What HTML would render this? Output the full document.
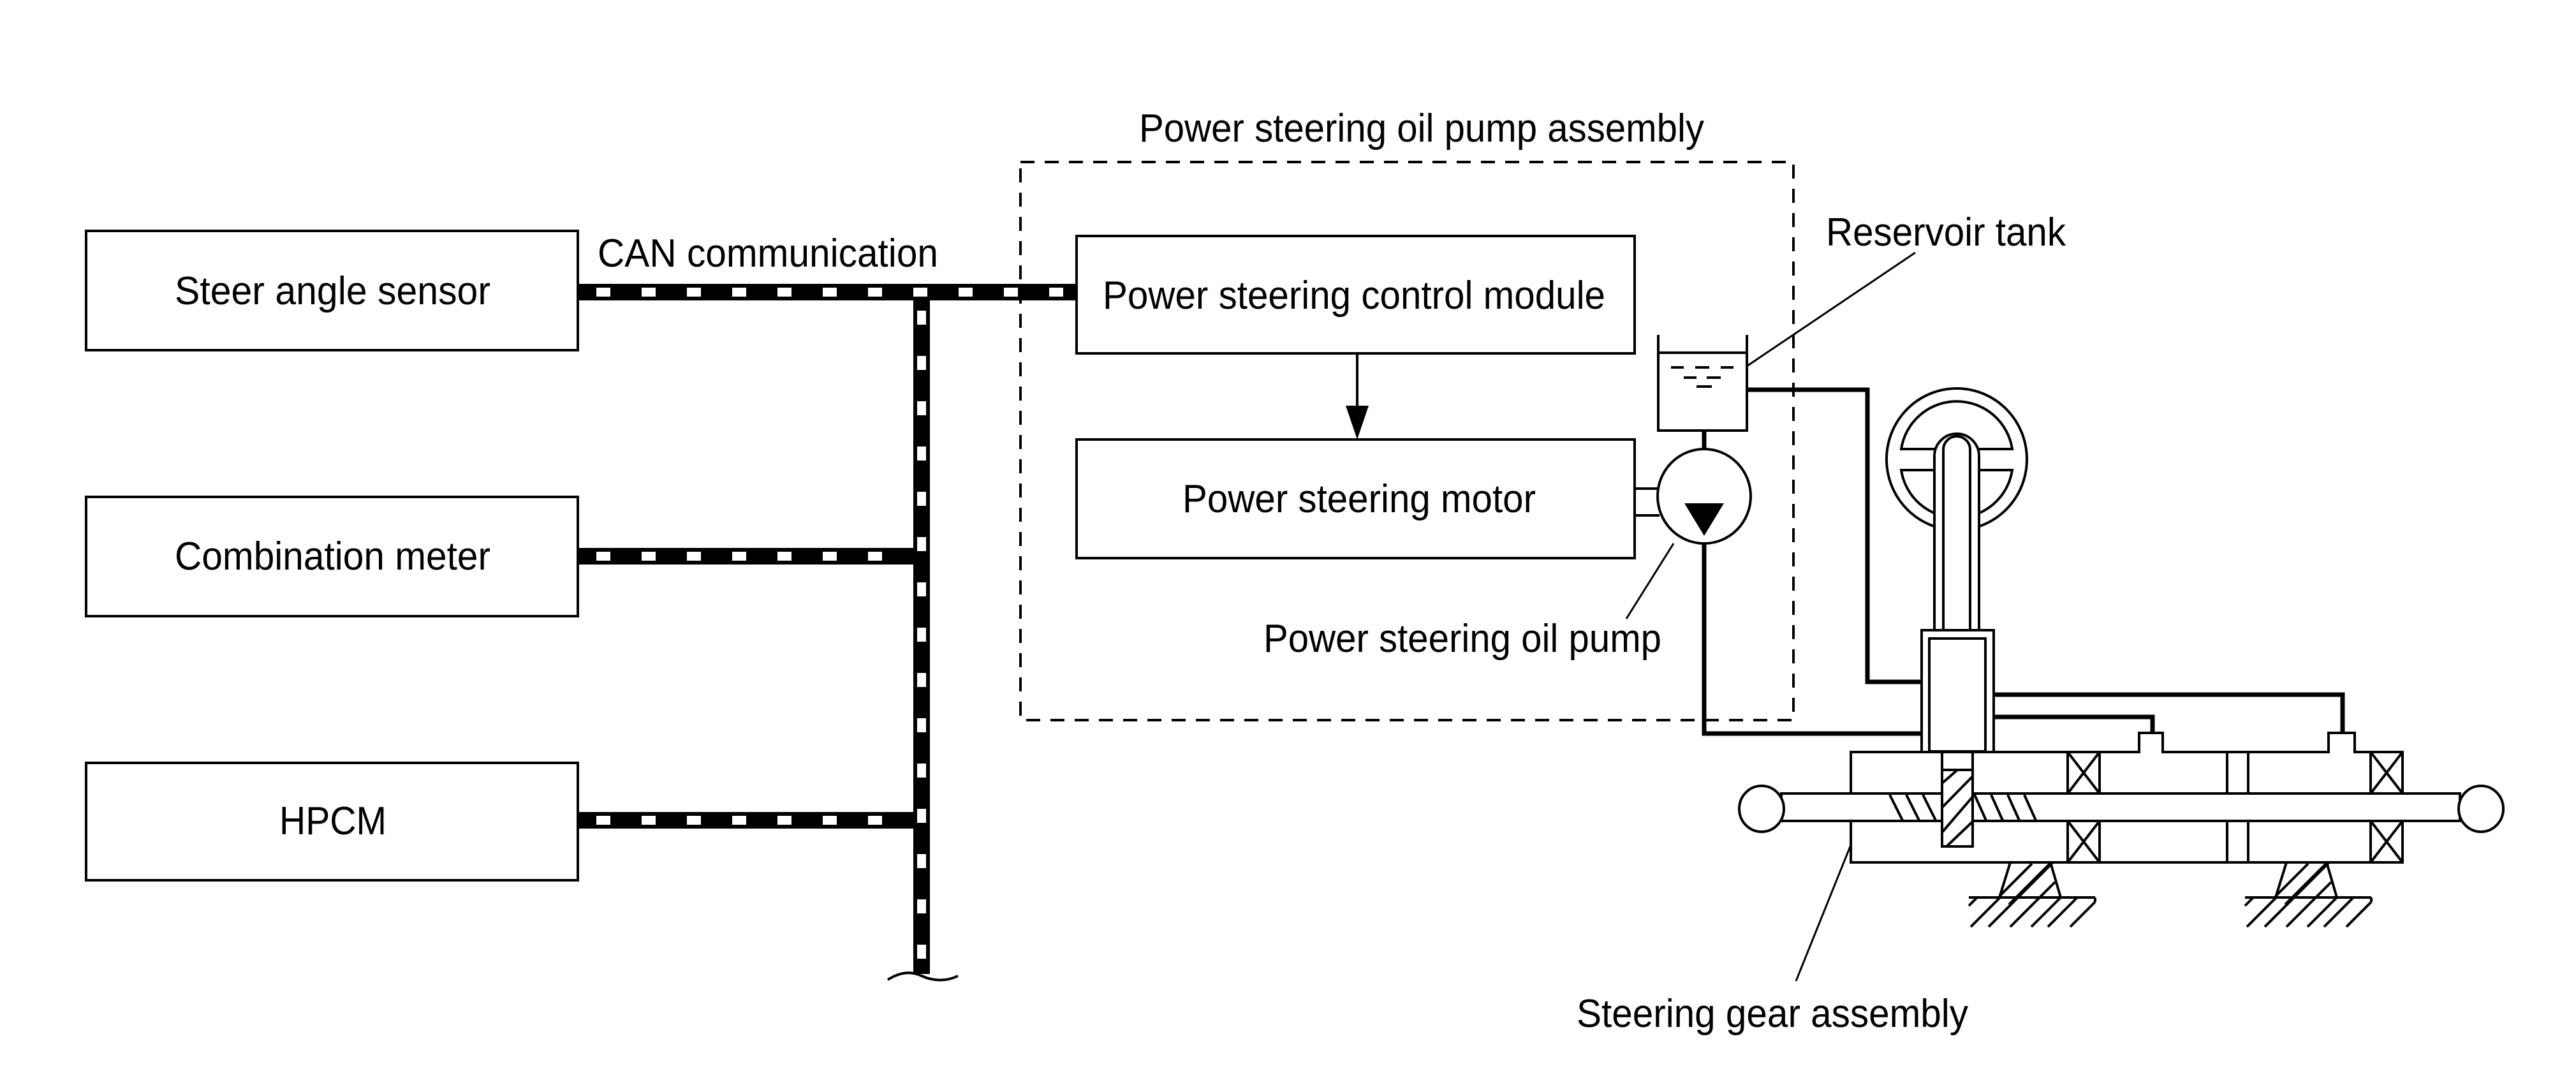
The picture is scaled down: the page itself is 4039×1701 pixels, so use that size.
<!DOCTYPE html>
<html><head><meta charset="utf-8"><style>
html,body{margin:0;padding:0;background:#fff;}
svg{display:block;}
text{font-family:"Liberation Sans",Arial,sans-serif;font-size:62px;fill:#000;}
</style></head><body>
<svg width="4039" height="1701" viewBox="0 0 4039 1701" xmlns="http://www.w3.org/2000/svg">
<g fill="none" stroke="#000" stroke-width="4">
<rect x="135" y="362" width="771" height="187"/>
<rect x="135" y="779" width="771" height="187"/>
<rect x="135" y="1196" width="771" height="184"/>
</g>
<text x="274" y="477" textLength="495" lengthAdjust="spacingAndGlyphs">Steer angle sensor</text>
<text x="274" y="893" textLength="495" lengthAdjust="spacingAndGlyphs">Combination meter</text>
<text x="438" y="1308" textLength="168" lengthAdjust="spacingAndGlyphs">HPCM</text>
<text x="937" y="418" textLength="534" lengthAdjust="spacingAndGlyphs">CAN communication</text>

<g stroke="#000" stroke-width="26" fill="none">
<line x1="906" y1="458" x2="1690" y2="458"/>
<line x1="906" y1="872" x2="1445" y2="872"/>
<line x1="906" y1="1286" x2="1445" y2="1286"/>
<line x1="1445" y1="445" x2="1445" y2="1527"/>
</g>
<g stroke="#fff" stroke-width="14" fill="none" stroke-dasharray="22 49">
<line x1="935" y1="458" x2="1690" y2="458"/>
<line x1="935" y1="872" x2="1431" y2="872"/>
<line x1="935" y1="1286" x2="1431" y2="1286"/>
<line x1="1445" y1="487" x2="1445" y2="1518"/>
</g>
<path d="M1392 1536 Q1420 1518 1445 1530 Q1475 1543 1502 1530" stroke="#000" stroke-width="4" fill="none"/>

<rect x="1600" y="254" width="1212" height="875" fill="none" stroke="#000" stroke-width="4" stroke-dasharray="22 16"/>
<text x="1786" y="222" textLength="886" lengthAdjust="spacingAndGlyphs">Power steering oil pump assembly</text>

<g fill="#fff" stroke="#000" stroke-width="4">
<rect x="1688" y="370" width="875" height="184"/>
<rect x="1688" y="689" width="875" height="186"/>
</g>
<text x="1729" y="484" textLength="788" lengthAdjust="spacingAndGlyphs">Power steering control module</text>
<text x="1854" y="803" textLength="554" lengthAdjust="spacingAndGlyphs">Power steering motor</text>
<line x1="2128" y1="554" x2="2128" y2="640" stroke="#000" stroke-width="4"/>
<polygon points="2110,636 2146,636 2128,689" fill="#000"/>

<g stroke="#000" stroke-width="4" fill="none">
<line x1="2563" y1="766" x2="2602" y2="766"/>
<line x1="2563" y1="808" x2="2602" y2="808"/>
</g>
<g stroke="#000" stroke-width="4" fill="none">
<polyline points="2600,525 2600,675 2739,675 2739,525"/>
<line x1="2600" y1="553" x2="2739" y2="553"/>
<line x1="2620" y1="576" x2="2640" y2="576"/><line x1="2658" y1="576" x2="2680" y2="576"/><line x1="2698" y1="576" x2="2718" y2="576"/>
<line x1="2640" y1="592" x2="2660" y2="592"/><line x1="2676" y1="592" x2="2698" y2="592"/>
<line x1="2660" y1="606" x2="2684" y2="606"/>
<line x1="2739" y1="574" x2="3003" y2="396" stroke-width="3"/>
</g>
<text x="2863" y="385" textLength="376" lengthAdjust="spacingAndGlyphs">Reservoir tank</text>
<line x1="2672" y1="675" x2="2672" y2="704" stroke="#000" stroke-width="7"/>
<ellipse cx="2672" cy="778" rx="73" ry="74" fill="#fff" stroke="#000" stroke-width="4"/>
<polygon points="2641,789 2703,789 2672,840" fill="#000"/>
<line x1="2624" y1="852" x2="2550" y2="970" stroke="#000" stroke-width="3"/>
<text x="1981" y="1022" textLength="624" lengthAdjust="spacingAndGlyphs">Power steering oil pump</text>

<g stroke="#000" stroke-width="7" fill="none">
<polyline points="2739,611 2928,611 2928,1069 3013,1069"/>
<polyline points="2672,852 2672,1150 3013,1150"/>
<polyline points="3126,1089 3673,1089 3673,1163"/>
<polyline points="3126,1124 3375,1124 3375,1163"/>
</g>

<g stroke="#000" stroke-width="4" fill="none">
<ellipse cx="3068" cy="720" rx="110" ry="111"/>
<path d="M2981,704 A88 88 0 0 1 3155,704 Z"/>
<path d="M2981,737 A88 88 0 0 0 3155,737 Z"/>
</g>
<path d="M3033,1001 L3033,715 A35 35 0 0 1 3103,715 L3103,1001" fill="#fff" stroke="#000" stroke-width="4"/>
<path d="M3047,1001 L3047,705 A21 21 0 0 1 3089,705 L3089,1001" fill="#fff" stroke="#000" stroke-width="4"/>

<g stroke="#000" stroke-width="4" fill="none">
<rect x="2902" y="1179" width="865" height="173" fill="#fff"/>
<rect x="3354" y="1149" width="37" height="30" fill="#fff"/>
<rect x="3651" y="1149" width="41" height="30" fill="#fff"/>
<line x1="3356" y1="1179" x2="3389" y2="1179" stroke="#fff" stroke-width="5"/>
<line x1="3653" y1="1179" x2="3690" y2="1179" stroke="#fff" stroke-width="5"/>
<rect x="3013" y="988" width="113" height="191" fill="#fff"/>
<rect x="3025" y="1001" width="88" height="177" fill="#fff"/>
<rect x="2793" y="1244" width="1064" height="43" fill="#fff"/>
<ellipse cx="2762" cy="1268" rx="35" ry="36" fill="#fff"/>
<ellipse cx="3890" cy="1268" rx="35" ry="36" fill="#fff"/>
<line x1="2963" y1="1246" x2="2983" y2="1286"/><line x1="2989" y1="1246" x2="3009" y2="1286"/><line x1="3015" y1="1246" x2="3035" y2="1286"/>
<line x1="3096" y1="1246" x2="3114" y2="1286"/><line x1="3122" y1="1246" x2="3140" y2="1286"/><line x1="3148" y1="1246" x2="3166" y2="1286"/><line x1="3174" y1="1246" x2="3192" y2="1286"/>
<rect x="3045" y="1179" width="48" height="148" fill="#fff"/>
<line x1="3045" y1="1207" x2="3093" y2="1207"/>
<line x1="3045" y1="1228" x2="3068" y2="1208"/>
<line x1="3045" y1="1266" x2="3093" y2="1217"/>
<line x1="3045" y1="1305" x2="3093" y2="1249"/>
<line x1="3052" y1="1327" x2="3093" y2="1288"/>
<rect x="3242" y="1179" width="50" height="65"/><line x1="3242" y1="1179" x2="3292" y2="1244"/><line x1="3292" y1="1179" x2="3242" y2="1244"/>
<rect x="3242" y="1287" width="50" height="65"/><line x1="3242" y1="1287" x2="3292" y2="1352"/><line x1="3292" y1="1287" x2="3242" y2="1352"/>
<rect x="3717" y="1179" width="50" height="65"/><line x1="3717" y1="1179" x2="3767" y2="1244"/><line x1="3767" y1="1179" x2="3717" y2="1244"/>
<rect x="3717" y="1287" width="50" height="65"/><line x1="3717" y1="1287" x2="3767" y2="1352"/><line x1="3767" y1="1287" x2="3717" y2="1352"/>
<line x1="3492" y1="1179" x2="3492" y2="1244"/><line x1="3525" y1="1179" x2="3525" y2="1244"/>
<line x1="3492" y1="1287" x2="3492" y2="1352"/><line x1="3525" y1="1287" x2="3525" y2="1352"/>
</g>
<g stroke="#000" stroke-width="4" fill="none" id="sup">
<line x1="3152" y1="1352" x2="3135" y2="1407"/><line x1="3215" y1="1352" x2="3231" y2="1407"/>
<line x1="3087" y1="1407" x2="3285" y2="1407"/>
<line x1="3186" y1="1354" x2="3135" y2="1405"/><line x1="3214" y1="1354" x2="3150" y2="1418"/>
<line x1="3087" y1="1420" x2="3100" y2="1407"/>
<line x1="3090" y1="1453" x2="3136" y2="1407"/><line x1="3118" y1="1453" x2="3218" y2="1353"/>
<line x1="3152" y1="1453" x2="3222" y2="1383"/><line x1="3185" y1="1453" x2="3231" y2="1407"/>
<line x1="3211" y1="1453" x2="3257" y2="1407"/><line x1="3246" y1="1453" x2="3285" y2="1414"/>
<line x1="3285" y1="1407" x2="3285" y2="1414"/>
</g>
<use href="#sup" transform="translate(433,0)"/>
<line x1="2903" y1="1322" x2="2816" y2="1538" stroke="#000" stroke-width="3"/>
<text x="2472" y="1610" textLength="614" lengthAdjust="spacingAndGlyphs">Steering gear assembly</text>
</svg>
</body></html>
